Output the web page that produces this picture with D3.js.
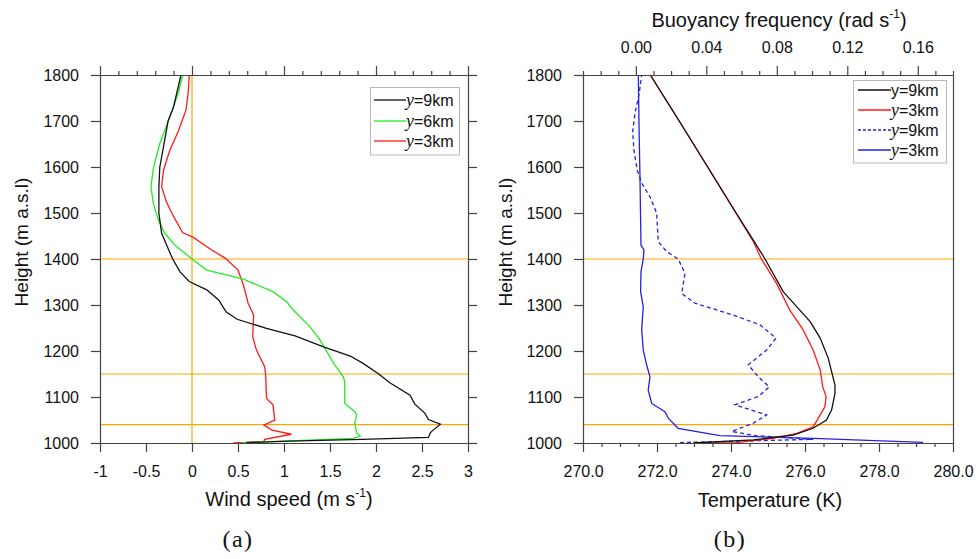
<!DOCTYPE html>
<html>
<head>
<meta charset="utf-8">
<script src="https://cdn.jsdelivr.net/npm/d3@7/dist/d3.min.js"></script>
<style>
  html, body { margin: 0; padding: 0; background: #fff; }
  svg { display: block; font-family: "Liberation Sans", Arial, Helvetica, sans-serif; }
</style>
</head>
<body>
<svg id="chart" width="977" height="559"></svg>
<script>
// ---- Panel (a): wind speed profiles (height in m a.s.l., speed in m/s) ----
const windHeight9 = [1001, 1004, 1008, 1012, 1022, 1028, 1041, 1051, 1065, 1085, 1104, 1131, 1150, 1173, 1189, 1209, 1233, 1249, 1269, 1285, 1311, 1333, 1351, 1372, 1400, 1430, 1456, 1500, 1557, 1600, 1644, 1700, 1731, 1800];
const windSpeed9  = [0.59, 1.05, 1.85, 2.57, 2.59, 2.62, 2.70, 2.57, 2.53, 2.42, 2.37, 2.15, 2.03, 1.86, 1.72, 1.43, 1.12, 0.81, 0.49, 0.37, 0.29, 0.16, -0.03, -0.13, -0.21, -0.275, -0.33, -0.36, -0.36, -0.35, -0.31, -0.26, -0.20, -0.12];

const windHeight6 = [1001, 1004, 1010, 1015, 1022, 1043, 1061, 1068, 1086, 1133, 1144, 1173, 1224, 1253, 1289, 1307, 1329, 1356, 1376, 1400, 1430, 1457, 1485, 1521, 1557, 1597, 1651, 1709, 1760, 1800];
const windSpeed6  = [0.55, 1.0, 1.75, 1.83, 1.79, 1.77, 1.79, 1.77, 1.66, 1.66, 1.645, 1.54, 1.39, 1.28, 1.10, 1.03, 0.88, 0.56, 0.16, 0.0, -0.185, -0.30, -0.366, -0.42, -0.446, -0.42, -0.35, -0.24, -0.15, -0.10];

const windHeight3 = [1000, 1001, 1003, 1008, 1019, 1028, 1039, 1050, 1083, 1097, 1150, 1166, 1202, 1231, 1278, 1304, 1343, 1376, 1402, 1420, 1447, 1457, 1492, 1525, 1557, 1593, 1637, 1677, 1724, 1764, 1800];
const windSpeed3  = [0.45, 0.55, 0.78, 0.79, 1.08, 0.87, 0.78, 0.90, 0.88, 0.81, 0.80, 0.79, 0.70, 0.66, 0.67, 0.61, 0.56, 0.50, 0.36, 0.21, 0.015, -0.10, -0.20, -0.28, -0.33, -0.31, -0.24, -0.15, -0.065, -0.04, -0.03];

// ---- Panel (b): temperature (K) and buoyancy frequency (rad/s) profiles ----
const tempHeight9 = [1000, 1007, 1017, 1032, 1050, 1072, 1108, 1126, 1184, 1228, 1264, 1296, 1329, 1400, 1440, 1500, 1600, 1700, 1800];
const temp9       = [272.98, 274.6, 275.68, 276.22, 276.58, 276.72, 276.81, 276.81, 276.63, 276.41, 276.14, 275.78, 275.41, 274.92, 274.61, 274.14, 273.37, 272.6, 271.82];

const tempHeight3 = [1000, 1001, 1010, 1021, 1035, 1054, 1079, 1101, 1122, 1159, 1202, 1246, 1289, 1347, 1400, 1440, 1500, 1600, 1700, 1800];
const temp3       = [273.25, 274.15, 275.14, 275.78, 276.22, 276.36, 276.54, 276.57, 276.48, 276.41, 276.22, 275.95, 275.59, 275.23, 274.82, 274.59, 274.13, 273.37, 272.6, 271.82];

const buoyHeight9 = [1001, 1008, 1016, 1025, 1043, 1061, 1083, 1101, 1122, 1144, 1170, 1202, 1228, 1257, 1278, 1304, 1325, 1369, 1400, 1416, 1438, 1500, 1535, 1565, 1593, 1637, 1677, 1717, 1760, 1800];
const buoy9       = [0.025, 0.1007, 0.068, 0.0544, 0.0666, 0.0742, 0.0562, 0.0695, 0.0757, 0.0695, 0.0638, 0.0742, 0.0795, 0.0704, 0.0553, 0.0335, 0.026, 0.0279, 0.024, 0.0175, 0.0127, 0.0118, 0.008, 0.0033, 0.0008, -0.0011, -0.0018, -0.0005, 0.0019, 0.0033];

const buoyHeight3 = [1001.5, 1010, 1016, 1032, 1054, 1068, 1086, 1115, 1144, 1170, 1202, 1246, 1296, 1329, 1372, 1400, 1420, 1430, 1485, 1586, 1688, 1800];
const buoy3       = [0.163, 0.1007, 0.0477, 0.024, 0.0184, 0.0165, 0.009, 0.007, 0.008, 0.0061, 0.0042, 0.0033, 0.0042, 0.0027, 0.0029, 0.0042, 0.0046, 0.0029, 0.0027, 0.0023, 0.0018, 0.0014];

// Reference levels marked in both panels
const refHeights = [1400, 1150, 1040];

// Tick values
const heightTicks = [1000, 1100, 1200, 1300, 1400, 1500, 1600, 1700, 1800];
const windTicks = [-1, -0.5, 0, 0.5, 1, 1.5, 2, 2.5, 3];
const windTopMajor = [-1, 0, 1, 2, 3];
const tempTicks = [270, 272, 274, 276, 278, 280];
const buoyTicks = [0.00, 0.04, 0.08, 0.12, 0.16];

const SANS = '"Liberation Sans", Arial, Helvetica, sans-serif';
const SERIF = '"Liberation Serif", "Times New Roman", Times, serif';

const svg = d3.select("#chart");

const C = {
  black: "#111111", green: "#22ee22", red: "#ff1a1a", blue: "#2222e6",
  orange: "#ffa500", axis: "#444444"
};

const zip = (hs, vs) => hs.map((h, i) => ({ h, v: vs[i] }));

// Scales
const yH = d3.scaleLinear().domain([1000, 1800]).range([443, 75]);
const xW = d3.scaleLinear().domain([-1, 3]).range([100, 468]);
const xT = d3.scaleLinear().domain([270, 280]).range([583, 953]);
const xN = d3.scaleLinear().domain([-0.03, 0.18]).range([583, 953]);

function styleAxis(g) {
  g.selectAll("path.domain").attr("stroke", C.axis).attr("stroke-width", 1.2);
  g.selectAll(".tick line").attr("stroke", C.axis).attr("stroke-width", 1.2);
  g.selectAll(".tick text").style("font-size", "16px")
    .style("font-family", SANS).attr("fill", "#111");
}

// Text helper: sets family/size via style so nothing overrides it
function label(g, x, y, size, family, anchor) {
  return g.append("text").attr("x", x).attr("y", y).attr("text-anchor", anchor || "middle")
    .style("font-size", size + "px").style("font-family", family).attr("fill", "#111");
}

// Legend entry label: italic serif "y" followed by "=Nkm"
function legendLabel(t, k, italic) {
  if (italic) {
    t.append("tspan").style("font-family", SERIF).style("font-style", "italic")
      .style("font-size", "18px").text("y");
    t.append("tspan").style("font-family", SANS).text(`=${k}km`);
  } else {
    t.text(`y=${k}km`);
  }
}

// ================= Panel (a) =================
const pa = svg.append("g");

pa.selectAll("line.ref").data(refHeights).join("line")
  .attr("x1", xW(-1)).attr("x2", xW(3))
  .attr("y1", d => yH(d)).attr("y2", d => yH(d))
  .attr("stroke", C.orange).attr("stroke-width", 1.2);
pa.append("line")
  .attr("x1", xW(0)).attr("x2", xW(0)).attr("y1", yH(1000)).attr("y2", yH(1800))
  .attr("stroke", C.orange).attr("stroke-width", 1.2);

const lineW = d3.line().x(d => xW(d.v)).y(d => yH(d.h));
[[windHeight3, windSpeed3, C.red], [windHeight6, windSpeed6, C.green], [windHeight9, windSpeed9, C.black]]
  .forEach(([hs, vs, col]) => {
    pa.append("path").datum(zip(hs, vs)).attr("d", lineW)
      .attr("fill", "none").attr("stroke", col).attr("stroke-width", 1.3);
  });

pa.append("g").attr("transform", `translate(0,${yH(1000)})`)
  .call(d3.axisBottom(xW).tickValues(windTicks).tickSize(9).tickSizeOuter(0).tickPadding(13.6).tickFormat(d => String(d)))
  .call(styleAxis);
pa.append("g").attr("transform", `translate(0,${yH(1800)})`)
  .call(d3.axisTop(xW).tickValues(d3.range(-1, 3.001, 0.2).filter(v => Math.abs(v - Math.round(v)) > 1e-6)).tickSize(4).tickSizeOuter(0).tickFormat(""))
  .call(styleAxis);
pa.append("g").attr("transform", `translate(0,${yH(1800)})`)
  .call(d3.axisTop(xW).tickValues(windTopMajor).tickSize(9).tickSizeOuter(0).tickFormat(""))
  .call(styleAxis);
pa.append("g").attr("transform", `translate(${xW(-1)},0)`)
  .call(d3.axisLeft(yH).tickValues(heightTicks).tickSize(9).tickSizeOuter(0).tickPadding(12).tickFormat(d => String(d)))
  .call(styleAxis);
pa.append("g").attr("transform", `translate(${xW(3)},0)`)
  .call(d3.axisRight(yH).tickValues(heightTicks).tickSize(9).tickSizeOuter(0).tickFormat(""))
  .call(styleAxis);

label(pa, 0, 0, 19, SANS).attr("transform", "translate(28,242) rotate(-90)").text("Height (m a.s.l)");
{
  const t = label(pa, 289, 506, 20, SANS);
  t.append("tspan").text("Wind speed (m s");
  t.append("tspan").style("font-size", "12px").attr("dy", -9).text("-1");
  t.append("tspan").attr("dy", 9).text(")");
}
label(pa, 238, 547, 24, SERIF).style("letter-spacing", "1.5px").text("(a)");

{
  const lg = pa.append("g");
  lg.append("rect").attr("x", 370.5).attr("y", 87.5).attr("width", 89).attr("height", 67.5)
    .attr("fill", "#fff").attr("stroke", "#b8b8b8").attr("stroke-width", 1);
  const items = [["9", C.black, 100], ["6", C.green, 121], ["3", C.red, 141]];
  items.forEach(([k, col, y]) => {
    lg.append("line").attr("x1", 374).attr("x2", 406).attr("y1", y).attr("y2", y)
      .attr("stroke", col).attr("stroke-width", 1.3);
    legendLabel(label(lg, 406, y + 6, 16, SANS, "start"), k, true);
  });
}

// ================= Panel (b) =================
const pb = svg.append("g");

pb.selectAll("line.ref").data(refHeights).join("line")
  .attr("x1", xT(270)).attr("x2", xT(280))
  .attr("y1", d => yH(d)).attr("y2", d => yH(d))
  .attr("stroke", C.orange).attr("stroke-width", 1.2);

const lineT = d3.line().x(d => xT(d.v)).y(d => yH(d.h));
const lineN = d3.line().x(d => xN(d.v)).y(d => yH(d.h));

pb.append("path").datum(zip(buoyHeight9, buoy9)).attr("d", lineN)
  .attr("fill", "none").attr("stroke", C.blue).attr("stroke-width", 1.3).attr("stroke-dasharray", "4,3");
pb.append("path").datum(zip(buoyHeight3, buoy3)).attr("d", lineN)
  .attr("fill", "none").attr("stroke", C.blue).attr("stroke-width", 1.3);
pb.append("path").datum(zip(tempHeight3, temp3)).attr("d", lineT)
  .attr("fill", "none").attr("stroke", C.red).attr("stroke-width", 1.3);
pb.append("path").datum(zip(tempHeight9, temp9)).attr("d", lineT)
  .attr("fill", "none").attr("stroke", C.black).attr("stroke-width", 1.3);

pb.append("g").attr("transform", `translate(0,${yH(1000)})`)
  .call(d3.axisBottom(xT).tickValues(d3.range(270, 280.001, 0.5).filter(v => v % 2 !== 0)).tickSize(4).tickSizeOuter(0).tickFormat(""))
  .call(styleAxis);
pb.append("g").attr("transform", `translate(0,${yH(1000)})`)
  .call(d3.axisBottom(xT).tickValues(tempTicks).tickSize(9).tickSizeOuter(0).tickPadding(13.6).tickFormat(d => d.toFixed(1)))
  .call(styleAxis);
pb.append("g").attr("transform", `translate(0,${yH(1800)})`)
  .call(d3.axisTop(xN).tickValues(d3.range(-3, 19, 1).filter(v => v % 4 !== 0).map(v => v / 100)).tickSize(4).tickSizeOuter(0).tickFormat(""))
  .call(styleAxis);
pb.append("g").attr("transform", `translate(0,${yH(1800)})`)
  .call(d3.axisTop(xN).tickValues(buoyTicks).tickSize(9).tickSizeOuter(0).tickPadding(13).tickFormat(d => d.toFixed(2)))
  .call(styleAxis);
pb.append("g").attr("transform", `translate(${xT(270)},0)`)
  .call(d3.axisLeft(yH).tickValues(heightTicks).tickSize(9).tickSizeOuter(0).tickPadding(12).tickFormat(d => String(d)))
  .call(styleAxis);
pb.append("g").attr("transform", `translate(${xT(280)},0)`)
  .call(d3.axisRight(yH).tickValues([]).tickSizeOuter(0))
  .call(styleAxis);

label(pb, 0, 0, 19, SANS).attr("transform", "translate(512,242) rotate(-90)").text("Height (m a.s.l)");
label(pb, 770, 507, 20, SANS).text("Temperature (K)");
{
  const t = label(pb, 779, 27, 20, SANS);
  t.append("tspan").text("Buoyancy frequency (rad s");
  t.append("tspan").style("font-size", "12px").attr("dy", -9).text("-1");
  t.append("tspan").attr("dy", 9).text(")");
}
label(pb, 730, 547, 24, SERIF).style("letter-spacing", "1.5px").text("(b)");

{
  const lg = pb.append("g");
  lg.append("rect").attr("x", 853.5).attr("y", 80.5).attr("width", 93).attr("height", 82.5)
    .attr("fill", "#fff").attr("stroke", "#b8b8b8").attr("stroke-width", 1);
  const items = [
    ["9", C.black, null, 90, false],
    ["3", C.red, null, 110, true],
    ["9", C.blue, "3,2", 130, true],
    ["3", C.blue, null, 150, true]
  ];
  items.forEach(([k, col, dash, y, italic]) => {
    lg.append("line").attr("x1", 858).attr("x2", 891).attr("y1", y).attr("y2", y)
      .attr("stroke", col).attr("stroke-width", 1.3).attr("stroke-dasharray", dash);
    legendLabel(label(lg, 891, y + 6, 16, SANS, "start"), k, italic);
  });
}
</script>
</body>
</html>
